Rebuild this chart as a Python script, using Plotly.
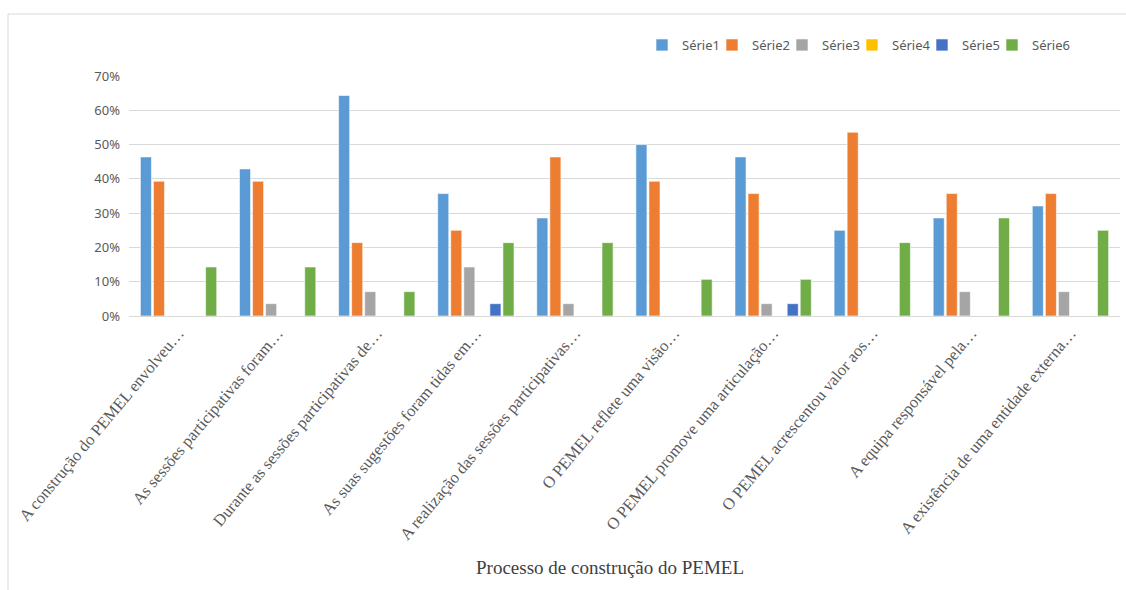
import plotly.graph_objects as go

categories = [
    "A construção do PEMEL envolveu…",
    "As sessões participativas foram…",
    "Durante as sessões participativas de…",
    "As suas sugestões foram tidas em…",
    "A realização das sessões participativas…",
    "O PEMEL reflete uma visão…",
    "O PEMEL promove uma articulação…",
    "O PEMEL acrescentou valor aos…",
    "A equipa responsável pela…",
    "A existência de uma entidade externa…",
]

serie1 = [0.464, 0.429, 0.643, 0.357, 0.286, 0.500, 0.464, 0.250, 0.286, 0.321]
serie2 = [0.393, 0.393, 0.214, 0.250, 0.464, 0.393, 0.357, 0.536, 0.357, 0.357]
serie3 = [0.0, 0.036, 0.071, 0.143, 0.036, 0.0, 0.036, 0.0, 0.071, 0.071]
serie4 = [0.0, 0.0, 0.0, 0.0, 0.0, 0.0, 0.0, 0.0, 0.0, 0.0]
serie5 = [0.0, 0.0, 0.0, 0.036, 0.0, 0.0, 0.036, 0.0, 0.0, 0.0]
serie6 = [0.143, 0.143, 0.071, 0.214, 0.214, 0.107, 0.107, 0.214, 0.286, 0.250]

series_names = ["Série1", "Série2", "Série3", "Série4", "Série5", "Série6"]
series_values = [serie1, serie2, serie3, serie4, serie5, serie6]
colors = ["#5B9BD5", "#ED7D31", "#A5A5A5", "#FFC000", "#4472C4", "#70AD47"]

# plot area geometry
L, R, T, B = 129, 6, 76, 274
W = 1126 - L - R
H = 590 - T - B

def px_x(x):
    return (x - L) / W

def px_y(y):
    return (590 - B - y) / H

legend_ids = ["legend", "legend2", "legend3", "legend4", "legend5", "legend6"]

fig = go.Figure()
for name, vals, col, lid in zip(series_names, series_values, colors, legend_ids):
    fig.add_trace(go.Bar(
        x=categories, y=vals, name=name, legend=lid,
        marker=dict(color=col, line=dict(color="white", width=0.6)),
    ))

legend_layout = {}
for i, lid in enumerate(legend_ids):
    legend_layout[lid] = dict(
        orientation="h", x=px_x(642 + 70 * i), y=px_y(45),
        xanchor="left", yanchor="middle",
        font=dict(family="Noto Sans", size=13, color="#595959"),
        itemwidth=30, bgcolor="rgba(0,0,0,0)",
    )

fig.update_layout(
    width=1126, height=590,
    margin=dict(l=L, r=R, t=T, b=B, autoexpand=False),
    paper_bgcolor="white", plot_bgcolor="white",
    barmode="group", bargap=0.21, bargroupgap=0.15,
    showlegend=True,
    **legend_layout,
    xaxis=dict(
        tickangle=-50, automargin=False,
        tickfont=dict(family="Liberation Serif", size=16.5, color="#595959"),
        showgrid=False, showline=True, linecolor="#D9D9D9", linewidth=1,
        ticks="",
    ),
    yaxis=dict(
        range=[0, 0.7], dtick=0.1, tickformat=".0%", automargin=False,
        tickfont=dict(family="Noto Sans", size=13, color="#595959"),
        showgrid=True, gridcolor="#D9D9D9", gridwidth=1,
        zeroline=True, zerolinecolor="#D9D9D9", zerolinewidth=1,
        ticks="", ticklabelstandoff=8,
    ),
    annotations=[dict(
        text="Processo de construção do PEMEL",
        xref="paper", yref="paper", x=px_x(610), y=px_y(567),
        xanchor="center", yanchor="middle", showarrow=False,
        font=dict(family="Liberation Serif", size=19, color="#404040"),
    )],
    shapes=[
        dict(type="line", xref="paper", yref="paper",
             x0=px_x(8), y0=px_y(600), x1=px_x(8), y1=px_y(14),
             line=dict(color="#D9D9D9", width=1)),
        dict(type="line", xref="paper", yref="paper",
             x0=px_x(8), y0=px_y(14), x1=px_x(1130), y1=px_y(14),
             line=dict(color="#D9D9D9", width=1)),
    ],
)

fig.write_html("out.html")
